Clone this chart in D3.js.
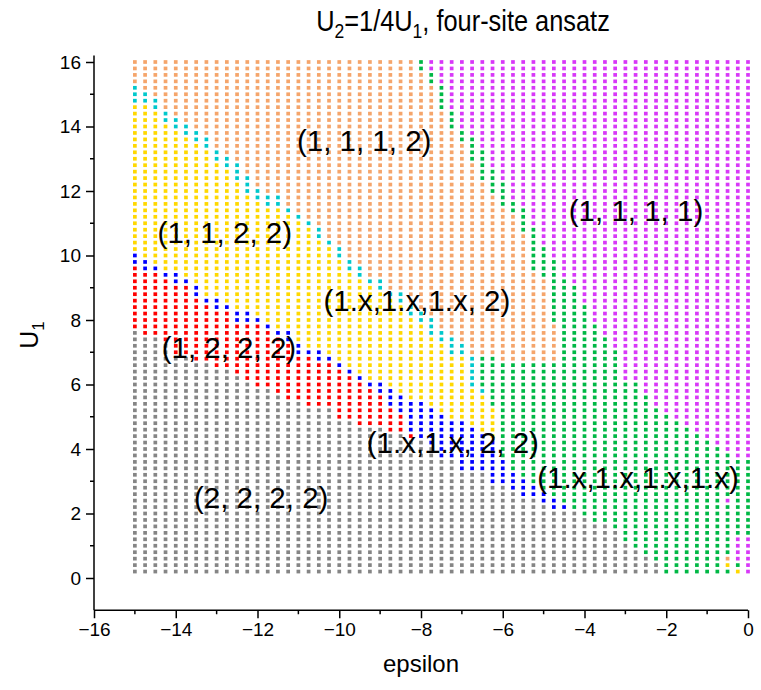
<!DOCTYPE html>
<html><head><meta charset="utf-8">
<script src="https://cdn.jsdelivr.net/npm/d3@7"></script>
<style>body{margin:0;background:#fff}svg{display:block}text{font-family:"Liberation Sans",Arial,sans-serif}</style>
</head><body>
<svg id="chart" width="761" height="690"></svg>
<script>
// ---- data ----
const epsilon = [-15,-14.75,-14.5,-14.25,-14,-13.75,-13.5,-13.25,-13,-12.75,-12.5,-12.25,-12,-11.75,-11.5,-11.25,-11,-10.75,-10.5,-10.25,-10,-9.75,-9.5,-9.25,-9,-8.75,-8.5,-8.25,-8,-7.75,-7.5,-7.25,-7,-6.75,-6.5,-6.25,-6,-5.75,-5.5,-5.25,-5,-4.75,-4.5,-4.25,-4,-3.75,-3.5,-3.25,-3,-2.75,-2.5,-2.25,-2,-1.75,-1.5,-1.25,-1,-0.75,-0.5,-0.25,0];
const U1 = [0.2,0.4,0.6,0.8,1,1.2,1.4,1.6,1.8,2,2.2,2.4,2.6,2.8,3,3.2,3.4,3.6,3.8,4,4.2,4.4,4.6,4.8,5,5.2,5.4,5.6,5.8,6,6.2,6.4,6.6,6.8,7,7.2,7.4,7.6,7.8,8,8.2,8.4,8.6,8.8,9,9.2,9.4,9.6,9.8,10,10.2,10.4,10.6,10.8,11,11.2,11.4,11.6,11.8,12,12.2,12.4,12.6,12.8,13,13.2,13.4,13.6,13.8,14,14.2,14.4,14.6,14.8,15,15.2,15.4,15.6,15.8,16];
// phase codes: g=(2,2,2,2) r=(1,2,2,2) b=(1.x,1.x,2,2) y=(1,1,2,2) c=(1.x,1.x,1.x,2) o=(1,1,1,2) n=(1.x,1.x,1.x,1.x) m=(1,1,1,1)
// one entry per epsilon column: run lengths of phases from lowest U1 upward
const columnRuns = [
"g38 r10 b2 y23 c3 o4","g37 r10 b2 y24 c2 o5","g37 r10 b1 y24 c2 o6","g36 r10 b1 y23 c2 o8",
"g34 r11 b2 y22 c2 o9","g34 r11 b1 y22 c2 o10","g33 r10 b2 y22 c2 o11","g33 r9 b1 y23 c2 o12",
"g32 r9 b2 y21 c2 o14","g32 r9 b1 y21 c2 o15","g31 r8 b2 y20 c3 o16","g30 r9 b2 y18 c3 o18",
"g29 r10 b1 y18 c2 o20","g29 r9 b1 y18 c2 o21","g28 r9 b1 y19 c2 o21","g27 r9 b2 y18 c1 o23",
"g27 r7 b2 y19 c1 o24","g26 r8 b1 y19 c1 o25","g26 r7 b2 y17 c2 o26","g26 r7 b1 y17 c1 o28",
"g24 r8 b1 y16 c2 o29","g24 r7 b1 y15 c2 o31","g23 r7 b1 y15 c2 o32","g23 r6 b1 y15 c1 o34",
"g23 r5 b2 y14 c2 o34","g22 r4 b3 y14 c1 o36","g22 r3 b3 y14 c2 o36","g21 r1 b5 y13 c2 o38",
"g21 b6 y12 c2 o37 n2","g20 b6 y11 c3 o36 n2 m2","g18 b7 y11 c2 o34 n4 m4","g18 b6 y10 c3 o32 n3 m8",
"g16 b8 y10 c2 o31 n2 m11","g16 b7 y6 c5 o30 n4 m12","g16 b6 y6 c1 n5 o27 n5 m14","g14 b7 y5 n8 o25 n4 m17",
"g14 b4 n15 o24 n4 m19","g13 b3 n17 o23 n2 m22","g12 b3 n18 o20 n4 m23","g12 b2 n19 o14 n7 m26",
"g11 b2 n20 o13 n5 m29","g10 b2 n21 o6 n10 m31","g10 b1 n35 m34","g10 n35 m35",
"g9 n33 m38","g8 n31 m41","g8 n29 m43","g7 n28 m45",
"g5 n25 m50","g4 n26 m50","g3 n25 m52","g2 n24 m54",
"n25 m55","n24 m56","n23 m57","n22 m58",
"n21 m59","n20 m60","n1 y1 o1 n8 m1 n7 m61","y1 n1 m4 n12 m62",
"m6 n12 m62"
];
const phaseColors = {g:"#858585", r:"#ff0000", b:"#0000ff", y:"#ffd800", c:"#00c8cc", o:"#f5a56b", n:"#00b845", m:"#d838f8"};
const labelText = ["(1, 1, 1, 2)","(1, 1, 1, 1)","(1, 1, 2, 2)","(1.x,1.x,1.x, 2)","(1, 2, 2, 2)","(1.x,1.x, 2, 2)","(1.x,1.x,1.x,1.x)","(2, 2, 2, 2)"];
const labelEps = [-9.39,-2.74,-12.8,-8.1,-12.7,-7.22,-2.69,-11.91];
const labelU = [13.58,11.41,10.7,8.62,7.16,4.19,3.13,2.51];
const xTicks = [-16,-14,-12,-10,-8,-6,-4,-2,0];
const yTicks = [0,2,4,6,8,10,12,14,16];

// ---- build cells ----
const cells = [];
columnRuns.forEach((s, ci) => {
  let j = 0;
  s.split(" ").forEach(tok => {
    const code = tok[0], n = +tok.slice(1);
    for (let k = 0; k < n; k++, j++) cells.push({eps: epsilon[ci], u: U1[j], code});
  });
});

const svg = d3.select("#chart");
const x = d3.scaleLinear().domain([-16, 0]).range([94, 748]);
const y = d3.scaleLinear().domain([-1, 16.2]).range([610.25, 55.55]);

// dots
const s = 3.7;
svg.append("g").selectAll("rect").data(cells).join("rect")
  .attr("x", d => x(d.eps) - s/2).attr("y", d => y(d.u) - s/2)
  .attr("width", s).attr("height", s)
  .attr("fill", d => phaseColors[d.code]);

// axes
const xAxis = svg.append("g").attr("transform", `translate(0,${y(-1)})`);
xAxis.call(d3.axisBottom(x).tickValues(xTicks).tickSize(8).tickPadding(4).tickFormat(d => d < 0 ? "\u2212" + Math.abs(d) : d));
xAxis.append("g").selectAll("line").data(d3.range(-15, 0, 2)).join("line")
  .attr("x1", d => x(d)).attr("x2", d => x(d)).attr("y1", 0).attr("y2", 4).attr("stroke", "#000").attr("stroke-width", 1.5);
const yAxis = svg.append("g").attr("transform", `translate(${x(-16)},0)`);
yAxis.call(d3.axisLeft(y).tickValues(yTicks).tickSize(8).tickPadding(5));
yAxis.append("g").selectAll("line").data(d3.range(1, 16, 2)).join("line")
  .attr("y1", d => y(d)).attr("y2", d => y(d)).attr("x1", 0).attr("x2", -4).attr("stroke", "#000").attr("stroke-width", 1.5);
[xAxis, yAxis].forEach(a => {
  a.select(".domain").attr("stroke-width", 1.5);
  a.selectAll(".tick line").attr("stroke-width", 1.5);
  a.selectAll(".tick text").attr("font-size", 19).attr("font-family", "'Liberation Sans', Arial, sans-serif").attr("fill", "#000");
});
xAxis.select(".domain").attr("d", `M${x(-16)},0H${x(0)}`);
yAxis.select(".domain").attr("d", `M0,${y(-1)}V${y(16.2)}`);

// phase labels
svg.append("g").selectAll("text").data(labelText).join("text")
  .attr("x", (d, i) => x(labelEps[i])).attr("y", (d, i) => y(labelU[i]))
  .attr("text-anchor", "middle").attr("dominant-baseline", "central")
  .attr("font-size", 29.5).attr("fill", "#000").text(d => d);

// axis titles
svg.append("text").attr("x", 421).attr("y", 672).attr("text-anchor", "middle").attr("font-size", 24).text("epsilon");
const yt = svg.append("text").attr("transform", "translate(38,335) rotate(-90)").attr("text-anchor", "middle").attr("font-size", 25);
yt.append("tspan").text("U");
yt.append("tspan").attr("font-size", 17).attr("dy", 6).text("1");

// title
const tg = svg.append("g").attr("transform", "translate(463,31) scale(0.875,1)");
const tt = tg.append("text").attr("text-anchor", "middle").attr("font-size", 29);
tt.append("tspan").text("U");
tt.append("tspan").attr("font-size", 20).attr("dy", 7).text("2");
tt.append("tspan").attr("dy", -7).text("=1/4U");
tt.append("tspan").attr("font-size", 20).attr("dy", 7).text("1");
tt.append("tspan").attr("dy", -7).text(", four-site ansatz");
</script>
</body></html>
